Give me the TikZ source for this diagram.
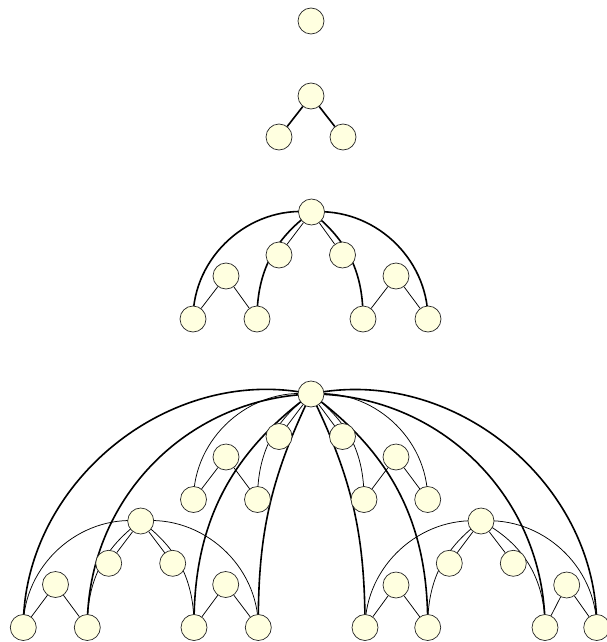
\documentclass[tikz,border=0pt]{standalone}
\usepackage{tikz}
\usetikzlibrary{backgrounds}
\definecolor{nodefill}{RGB}{255,255,224}

\begin{document}
\begin{tikzpicture}[x=1pt,y=1pt,
vtx/.style={circle,draw=black!85,line width=.7pt,fill=nodefill,minimum size=26pt,inner sep=0pt},
lite/.style={line width=.75pt},
heavy/.style={line width=1.6pt}]
\useasboundingbox(0,-642)rectangle(606,0);
% single node
\node[vtx](n0)at(311,-21){};
% two levels
\node[vtx](r1)at(311,-96){};\node[vtx](r1a)at(279,-137){};\node[vtx](r1b)at(343,-137){};
% three levels
\node[vtx](r2)at(311.5,-212){};\node[vtx](r2a)at(279,-255){};\node[vtx](r2b)at(342.5,-255){};
\node[vtx](r2L)at(226,-276){};\node[vtx](r2La)at(193,-319){};\node[vtx](r2Lb)at(257,-319){};
\node[vtx](r2R)at(396,-276){};\node[vtx](r2Ra)at(363,-319){};\node[vtx](r2Rb)at(428,-319){};
% four levels
\node[vtx](r3)at(311,-394){};\node[vtx](r3a)at(279,-436.5){};\node[vtx](r3b)at(342.5,-436.5){};
\node[vtx](r3L)at(226,-457){};\node[vtx](r3La)at(193.5,-499.5){};\node[vtx](r3Lb)at(257.5,-499.5){};
\node[vtx](r3R)at(396,-457){};\node[vtx](r3Ra)at(364,-499.5){};\node[vtx](r3Rb)at(427.7,-499.5){};
\node[vtx](s3)at(140.7,-521){};\node[vtx](s3a)at(108.7,-563.3){};\node[vtx](s3b)at(172.7,-563.3){};
\node[vtx](s3L)at(55.5,-584.5){};\node[vtx](s3La)at(23.3,-627.5){};\node[vtx](s3Lb)at(87.3,-627.5){};
\node[vtx](s3R)at(225.7,-584.5){};\node[vtx](s3Ra)at(194,-627.5){};\node[vtx](s3Rb)at(258.3,-627.5){};
\node[vtx](u3)at(481,-521){};\node[vtx](u3a)at(449.3,-563.3){};\node[vtx](u3b)at(513.3,-563.3){};
\node[vtx](u3L)at(396,-585){};\node[vtx](u3La)at(365,-627.5){};\node[vtx](u3Lb)at(427.7,-627.5){};
\node[vtx](u3R)at(566.7,-585){};\node[vtx](u3Ra)at(545,-627.5){};\node[vtx](u3Rb)at(596.7,-627.5){};
\begin{scope}[on background layer]
\draw[heavy](r1)--(r1a);\draw[heavy](r1)--(r1b);
\foreach \p in {r2,r3,s3,u3}{
  \draw[lite](\p)--(\p a);\draw[lite](\p)--(\p b);
  \draw[lite](\p L)--(\p La);\draw[lite](\p L)--(\p Lb);
  \draw[lite](\p R)--(\p Ra);\draw[lite](\p R)--(\p Rb);}
% arcs run centre to centre, the nodes cover their ends
\draw[heavy](r2.center)to[bend right=48](r2La.center);\draw[heavy](r2.center)to[bend right=27](r2Lb.center);
\draw[heavy](r2.center)to[bend left=26](r2Ra.center);\draw[heavy](r2.center)to[bend left=47](r2Rb.center);
\draw[lite](r3.center)to[bend right=48](r3La.center);\draw[lite](r3.center)to[bend right=27](r3Lb.center);
\draw[lite](r3.center)to[bend left=27](r3Ra.center);\draw[lite](r3.center)to[bend left=48](r3Rb.center);
\draw[lite](s3.center)to[bend right=48](s3La.center);\draw[lite](s3.center)to[bend right=27](s3Lb.center);
\draw[lite](s3.center)to[bend left=27](s3Ra.center);\draw[lite](s3.center)to[bend left=48](s3Rb.center);
\draw[lite](u3.center)to[bend right=47](u3La.center);\draw[lite](u3.center)to[bend right=27](u3Lb.center);
\draw[lite](u3.center)to[bend left=31](u3Ra.center);\draw[lite](u3.center)to[bend left=47](u3Rb.center);
\draw[heavy](r3.center)to[bend right=51](s3La.center);\draw[heavy](r3.center)to[bend right=44](s3Lb.center);
\draw[heavy](r3.center)to[bend right=27](s3Ra.center);\draw[heavy](r3.center)to[bend right=13](s3Rb.center);
\draw[heavy](r3.center)to[bend left=13](u3La.center);\draw[heavy](r3.center)to[bend left=27](u3Lb.center);
\draw[heavy](r3.center)to[bend left=45](u3Ra.center);\draw[heavy](r3.center)to[bend left=51](u3Rb.center);
\end{scope}
\end{tikzpicture}
\end{document}
